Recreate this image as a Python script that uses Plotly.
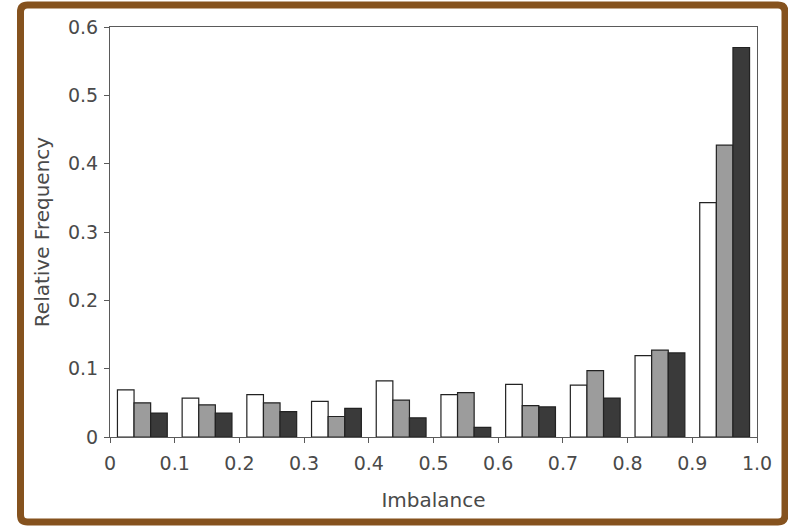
import plotly.graph_objects as go

# Histogram of imbalance: relative frequency per 0.1-wide bin, three series
bin_centers = [0.05, 0.15, 0.25, 0.35, 0.45, 0.55, 0.65, 0.75, 0.85, 0.95]
series_white = [0.069, 0.057, 0.062, 0.052, 0.082, 0.062, 0.077, 0.076, 0.119, 0.343]
series_gray = [0.050, 0.047, 0.050, 0.030, 0.054, 0.065, 0.046, 0.097, 0.127, 0.427]
series_dark = [0.035, 0.035, 0.037, 0.042, 0.028, 0.014, 0.044, 0.057, 0.123, 0.570]

x_ticks = [0, 0.1, 0.2, 0.3, 0.4, 0.5, 0.6, 0.7, 0.8, 0.9, 1.0]
x_tick_text = ["0", "0.1", "0.2", "0.3", "0.4", "0.5", "0.6", "0.7", "0.8", "0.9", "1.0"]
y_ticks = [0, 0.1, 0.2, 0.3, 0.4, 0.5, 0.6]
y_tick_text = ["0", "0.1", "0.2", "0.3", "0.4", "0.5", "0.6"]

W, H = 788, 527
ML, MR, MT, MB = 110, 31, 27, 90
PW, PH = W - ML - MR, H - MT - MB

FONT = "DejaVu Sans"
TEXT = "#4a4a4a"
AXIS = "#5a5a5a"
BROWN = "rgb(133,82,30)"

fig = go.Figure()
for vals, fill in [(series_white, "#ffffff"), (series_gray, "#9c9c9c"), (series_dark, "#3a3a3a")]:
    fig.add_trace(go.Bar(
        x=bin_centers, y=vals,
        marker=dict(color=fill, line=dict(color="#222222", width=1.2)),
        showlegend=False,
    ))


def fx(px):
    return (px - ML) / PW


def fy(py):
    return (H - MB - py) / PH


# rounded brown frame around the whole figure
x0, x1, y0, y1, r = 20.5, 785, 5, 522, 7
pts = [
    ("M", [(x0 + r, y0)]),
    ("L", [(x1 - r, y0)]),
    ("Q", [(x1, y0), (x1, y0 + r)]),
    ("L", [(x1, y1 - r)]),
    ("Q", [(x1, y1), (x1 - r, y1)]),
    ("L", [(x0 + r, y1)]),
    ("Q", [(x0, y1), (x0, y1 - r)]),
    ("L", [(x0, y0 + r)]),
    ("Q", [(x0, y0), (x0 + r, y0)]),
]
path = " ".join(cmd + " " + " ".join(f"{fx(a):.5f},{fy(b):.5f}" for a, b in p) for cmd, p in pts) + " Z"

fig.add_shape(type="path", path=path, xref="paper", yref="paper",
              line=dict(color=BROWN, width=7), layer="above")

fig.update_layout(
    width=W, height=H,
    margin=dict(l=ML, r=MR, t=MT, b=MB, pad=0),
    paper_bgcolor="white", plot_bgcolor="white",
    barmode="group", bargap=0.23, bargroupgap=0,
    font=dict(family=FONT, color=TEXT, size=19),
    xaxis=dict(
        range=[0, 1], tickmode="array", tickvals=x_ticks, ticktext=x_tick_text,
        showgrid=False, zeroline=False, showline=True, linecolor=AXIS, linewidth=1.2,
        mirror=True, ticks="outside", ticklen=5, tickcolor=AXIS, ticklabelstandoff=4,
        title=dict(text="Imbalance", font=dict(size=20, family=FONT, color=TEXT), standoff=20),
    ),
    yaxis=dict(
        range=[0, 0.6], tickmode="array", tickvals=y_ticks, ticktext=y_tick_text,
        showgrid=False, zeroline=False, showline=True, linecolor=AXIS, linewidth=1.2,
        mirror=True, ticks="outside", ticklen=5, tickcolor=AXIS, ticklabelstandoff=2,
        title=dict(text="Relative Frequency", font=dict(size=20, family=FONT, color=TEXT), standoff=12),
    ),
)

fig.write_html("out.html")
